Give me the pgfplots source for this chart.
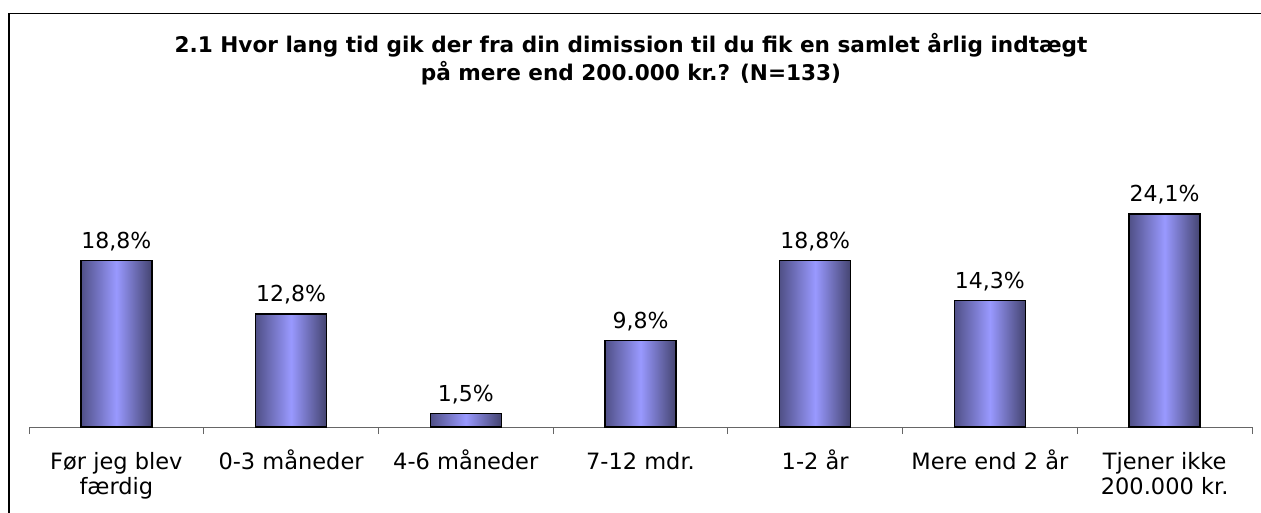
\documentclass[border=0pt]{standalone}
\usepackage{pgfplots}
\pgfplotsset{compat=1.18}
\usepackage{fontspec}
\setmainfont{DejaVu Sans}
\definecolor{barlight}{RGB}{153,153,255}
\definecolor{barleft}{RGB}{80,80,135}
\definecolor{barright}{RGB}{68,68,112}
\begin{document}
\begin{tikzpicture}[x=1pt,y=1pt]
\path[use as bounding box] (0,0) rectangle (1261,512);
\draw[line width=1.6pt] (9,-2) -- (9,498.5) -- (1263,498.5);
\node[align=center, font=\fontsize{21.6}{28}\selectfont\bfseries] at (631,453)
  {2.1 Hvor lang tid gik der fra din dimission til du fik en samlet årlig indtægt\\på mere end 200.000 kr.? (N=133)};
\begin{axis}[
  at={(29pt,85pt)}, anchor=south west,
  scale only axis,
  width=1223pt, height=297pt,
  xmin=-0.5, xmax=6.5, ymin=0, ymax=33.6,
  axis x line*=bottom, axis y line=none,
  x axis line style={draw=gray!80!black, line width=1pt, -},
  xtick={0,1,2,3,4,5,6},
  major tick length=0pt,
  minor xtick={-0.5,0.5,1.5,2.5,3.5,4.5,5.5,6.5},
  minor tick length=7pt,
  tick align=outside,
  minor tick style={draw=gray!80!black, line width=1pt},
  xticklabels={{Før jeg blev\\færdig},{0-3 måneder\\\mbox{}},{4-6 måneder\\\mbox{}},{7-12 mdr.\\\mbox{}},{1-2 år\\\mbox{}},{Mere end 2 år\\\mbox{}},{Tjener ikke\\200.000 kr.}},
  xticklabel style={align=center, font=\fontsize{22.5}{24.5}\selectfont, anchor=base, yshift=-67pt},
  ytick=\empty,
  clip=false,
  nodes near coords,
  point meta=explicit symbolic,
  every node near coord/.append style={font=\fontsize{22}{26}\selectfont, text=black, inner sep=9pt},
  mybar/.style={ybar, bar shift=0pt, bar width=71pt, draw=black, line width=1.3pt,
    left color=barleft, right color=barright, middle color=barlight},
]
\addplot[mybar] coordinates {(0,18.8) [18,8\%]};
\addplot[mybar] coordinates {(1,12.8) [12,8\%]};
\addplot[mybar] coordinates {(2,1.5) [1,5\%]};
\addplot[mybar] coordinates {(3,9.8) [9,8\%]};
\addplot[mybar] coordinates {(4,18.8) [18,8\%]};
\addplot[mybar] coordinates {(5,14.3) [14,3\%]};
\addplot[mybar] coordinates {(6,24.1) [24,1\%]};
\end{axis}
\end{tikzpicture}
\end{document}
